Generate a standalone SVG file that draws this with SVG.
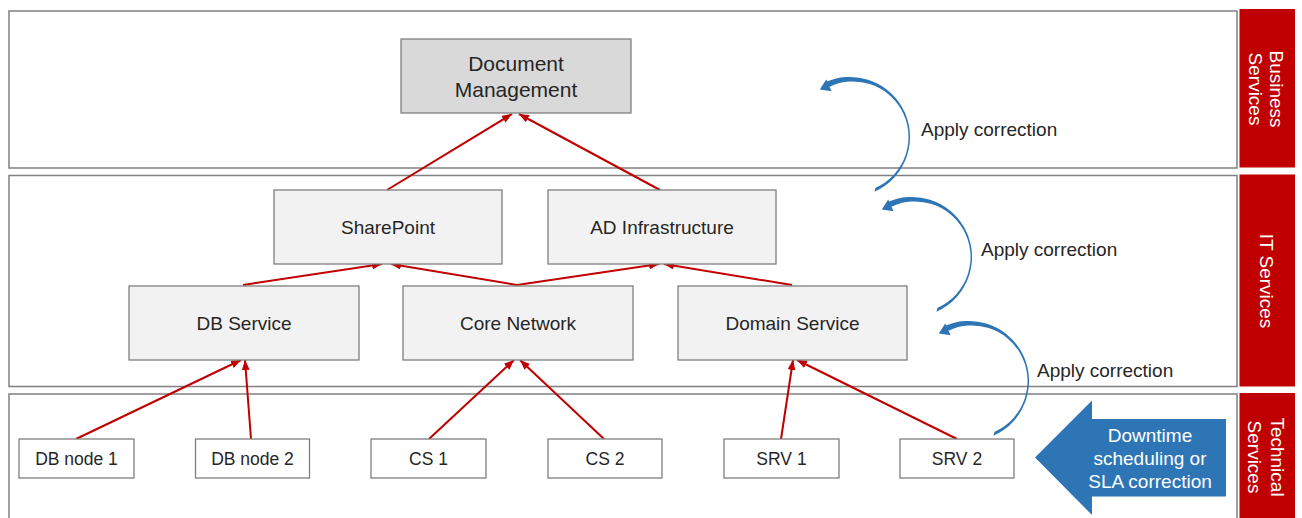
<svg xmlns="http://www.w3.org/2000/svg" width="1302" height="518" viewBox="0 0 1302 518">
<style>
text{font-family:"Liberation Sans",Arial,sans-serif;fill:#262626}
.band{fill:#fff;stroke:#808080;stroke-width:1.5}
.lbl{fill:#c00000}
.lt{fill:#fff;font-size:19px}
.top{fill:#d9d9d9;stroke:#7f7f7f;stroke-width:1.3}
.mid{fill:#f2f2f2;stroke:#7f7f7f;stroke-width:1.3}
.bot{fill:#fff;stroke:#7f7f7f;stroke-width:1.3}
.t19{font-size:19px;text-anchor:middle}
.t21{font-size:21px;text-anchor:middle}
.t17{font-size:17.5px;text-anchor:middle}
.ac{font-size:19px}
.edge{stroke:#c00000;stroke-width:2;fill:none;marker-end:url(#ah)}
.blue{fill:#2e75b6}
</style>
<defs>
<marker id="ah" markerUnits="userSpaceOnUse" viewBox="0 0 10 8" markerWidth="10" markerHeight="8" refX="10" refY="4" orient="auto">
<path d="M0,0 L10,4 L0,8 z" fill="#c00000"/>
</marker>
<g id="curve">
<path class="blue" d="M874.4,191.8 A60,60 0 0 0 902,107 A60,60 0 0 0 824.6,82.6 L829.5,86.7 A55.5,55.5 0 0 1 901.1,109.25 A55.5,55.5 0 0 1 875.6,187.7 Z"/>
<path class="blue" d="M819.8,89.5 L826.2,79.6 L831.6,91.2 Z"/>
</g>
</defs>

<g id="bands">
<rect class="band" x="9" y="11" width="1228" height="157"/>
<rect class="band" x="9" y="175.5" width="1228" height="211"/>
<rect class="band" x="9" y="394" width="1228" height="140"/>
</g>

<g id="label-business">
<rect class="lbl" x="1239.5" y="9" width="55.5" height="158.5"/>
<text class="lt" text-anchor="middle" transform="translate(1267,89) rotate(90)"><tspan x="0" y="-3">Business</tspan><tspan x="0" y="18.5">Services</tspan></text>
</g>
<g id="label-it">
<rect class="lbl" x="1239.5" y="174.5" width="55.5" height="212"/>
<text class="lt" text-anchor="middle" transform="translate(1267,281) rotate(90)" y="7.5">IT Services</text>
</g>
<g id="label-technical">
<rect class="lbl" x="1239.5" y="393" width="55.5" height="130"/>
<text class="lt" text-anchor="middle" transform="translate(1267,457) rotate(90)"><tspan x="0" y="-3.5">Technical</tspan><tspan x="0" y="19">Services</tspan></text>
</g>

<g id="connectors">
<path class="edge" d="M387,190 L512,114"/>
<path class="edge" d="M660,190 L519,114"/>
<path class="edge" d="M243,285 L382,264"/>
<path class="edge" d="M517,285 L391,264"/>
<path class="edge" d="M517,285 L659,264"/>
<path class="edge" d="M792,285 L664,264"/>
<path class="edge" d="M76,439 L241,360"/>
<path class="edge" d="M251,439 L245,360"/>
<path class="edge" d="M429,439 L514,360"/>
<path class="edge" d="M604,439 L520,360"/>
<path class="edge" d="M781,439 L793,360"/>
<path class="edge" d="M957,439 L797,360"/>
</g>

<g id="doc-management">
<rect class="top" x="401" y="39" width="230" height="74"/>
<text class="t21" x="516" y="70.5">Document</text>
<text class="t21" x="516" y="96.5">Management</text>
</g>
<g id="sharepoint">
<rect class="mid" x="274" y="190" width="228" height="74"/>
<text class="t19" x="388" y="234">SharePoint</text>
</g>
<g id="ad-infrastructure">
<rect class="mid" x="548" y="190" width="228" height="74"/>
<text class="t19" x="662" y="234">AD Infrastructure</text>
</g>
<g id="db-service">
<rect class="mid" x="129" y="286" width="230" height="74"/>
<text class="t19" x="244" y="330">DB Service</text>
</g>
<g id="core-network">
<rect class="mid" x="403" y="286" width="230" height="74"/>
<text class="t19" x="518" y="330">Core Network</text>
</g>
<g id="domain-service">
<rect class="mid" x="678" y="286" width="229" height="74"/>
<text class="t19" x="792.5" y="330">Domain Service</text>
</g>

<g id="db-node-1">
<rect class="bot" x="19" y="439" width="115" height="39"/>
<text class="t17" x="76.5" y="465">DB node 1</text>
</g>
<g id="db-node-2">
<rect class="bot" x="195.5" y="439" width="114" height="39"/>
<text class="t17" x="252.5" y="465">DB node 2</text>
</g>
<g id="cs-1">
<rect class="bot" x="371" y="439" width="115" height="39"/>
<text class="t17" x="428.5" y="465">CS 1</text>
</g>
<g id="cs-2">
<rect class="bot" x="548" y="439" width="114" height="39"/>
<text class="t17" x="605" y="465">CS 2</text>
</g>
<g id="srv-1">
<rect class="bot" x="724" y="439" width="115" height="39"/>
<text class="t17" x="781.5" y="465">SRV 1</text>
</g>
<g id="srv-2">
<rect class="bot" x="900" y="439" width="114" height="39"/>
<text class="t17" x="957" y="465">SRV 2</text>
</g>

<g id="corrections">
<use href="#curve"/>
<use href="#curve" transform="translate(62,120)"/>
<use href="#curve" transform="translate(119,244)"/>
<text class="ac" x="921" y="135.5">Apply correction</text>
<text class="ac" x="981" y="256">Apply correction</text>
<text class="ac" x="1037" y="377">Apply correction</text>
</g>

<g id="downtime">
<path class="blue" d="M1035,457.5 L1092,400.5 L1092,419 L1226,419 L1226,496.5 L1092,496.5 L1092,515 Z"/>
<text class="t19" style="fill:#fff" x="1150" y="442">Downtime</text>
<text class="t19" style="fill:#fff" x="1150" y="465">scheduling or</text>
<text class="t19" style="fill:#fff" x="1150" y="488">SLA correction</text>
</g>
</svg>
